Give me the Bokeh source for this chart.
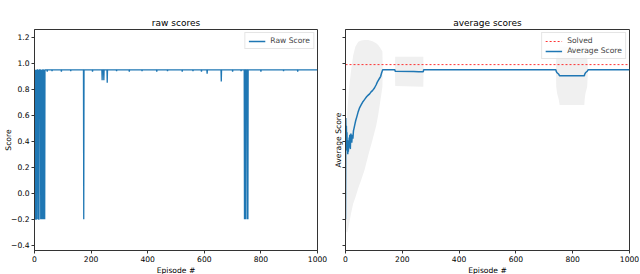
import numpy as np
from bokeh.plotting import figure
from bokeh.layouts import row
from bokeh.models import FixedTicker, Range1d, Legend, LegendItem
from bokeh.embed import file_html
from bokeh.resources import INLINE

# ---------------- data ----------------
x_limits = [0, 1000]
y_limits = [-0.44, 1.26]
x_ticks = [0, 200, 400, 600, 800, 1000]
y_ticks = [-0.4, -0.2, 0.0, 0.2, 0.4, 0.6, 0.8, 1.0, 1.2]
y_tick_labels = ["\u22120.4", "\u22120.2", "0.0", "0.2", "0.4", "0.6", "0.8", "1.0", "1.2"]

last_episode = 999
raw_base_score = 0.95
raw_dip_episodes = [0, 1, 3, 5, 6, 8, 13, 15, 16, 22, 24, 26, 29, 31, 34, 36,
                    45, 62, 95, 128, 174, 205, 239, 245, 257, 290, 335, 380,
                    432, 470, 522, 560, 590, 610, 660, 700, 730,
                    742, 745, 751, 754, 800, 880, 930]
raw_dip_scores = [-0.2, -0.2, -0.2, -0.2, -0.2, -0.2, -0.2, -0.2, -0.2, -0.2, -0.2, -0.2, -0.2, -0.2, -0.2, -0.2,
                  0.935, 0.94, 0.935, 0.94, -0.2, 0.935, 0.87, 0.87, 0.85, 0.94, 0.935, 0.94,
                  0.935, 0.94, 0.935, 0.94, 0.935, 0.92, 0.86, 0.935, 0.94,
                  -0.2, -0.2, -0.2, -0.2, 0.935, 0.94, 0.935]

avg_episodes = [0, 1, 2, 3, 4, 5, 6, 7, 8, 9, 10, 11, 12, 13, 14, 15, 16, 17, 18, 19, 20,
                22, 24, 26, 28, 30, 33, 36, 40, 45, 49, 55, 60, 65, 70, 75, 80, 85, 90, 95,
                102, 108, 112, 116, 120, 124, 127, 131, 174, 175, 240, 257, 274, 275,
                741, 742, 745, 751, 754, 841, 842, 845, 851, 854, 1000]
avg_scores = [-0.2, 0.58, 0.43, 0.52, 0.38, 0.47, 0.33, 0.41, 0.30, 0.37, 0.32, 0.40, 0.35, 0.43, 0.38,
              0.45, 0.40, 0.34, 0.41, 0.46, 0.42,
              0.39, 0.45, 0.42, 0.48, 0.50, 0.53, 0.56, 0.59, 0.63, 0.655, 0.68, 0.70, 0.715, 0.73,
              0.745, 0.755, 0.765, 0.78, 0.79,
              0.81, 0.835, 0.855, 0.87, 0.885, 0.90, 0.925, 0.95, 0.95, 0.938, 0.937, 0.935, 0.935, 0.95,
              0.95, 0.9385, 0.927, 0.9155, 0.904, 0.904, 0.9155, 0.927, 0.9385, 0.95, 0.95]

band_episodes = [0, 3, 7, 13, 20, 27, 35, 45, 55, 67, 80, 95, 108, 115, 122, 130, 131,
                 174, 175, 274, 275, 741, 742, 745, 751, 754, 841, 842, 845, 851, 854, 1000]
band_upper = [-0.2, 0.45, 0.65, 0.82, 0.95, 1.06, 1.13, 1.165, 1.175, 1.18, 1.18, 1.17, 1.155, 1.14,
              1.12, 1.09, 0.95,
              0.95, 1.05, 1.05, 0.95, 0.95, 1.05, 1.09, 1.11, 1.13, 1.13, 1.11, 1.09, 1.05, 0.95, 0.95]
band_lower = [-0.2, -0.30, -0.30, -0.23, -0.15, -0.08, -0.03, 0.04, 0.10, 0.18, 0.29, 0.41, 0.52, 0.60,
              0.70, 0.82, 0.95,
              0.95, 0.825, 0.82, 0.95, 0.95, 0.82, 0.77, 0.72, 0.68, 0.68, 0.72, 0.77, 0.82, 0.95, 0.95]

solved_score = 0.99

# ---------------- build raw polyline from the dip lists ----------------
pts = {}
for e, v in zip(raw_dip_episodes, raw_dip_scores):
    pts[e] = v
for e in list(raw_dip_episodes):
    for n in (e - 1, e + 1):
        if 0 <= n <= last_episode and n not in pts:
            pts[n] = raw_base_score
pts.setdefault(0, raw_base_score)
pts.setdefault(last_episode, raw_base_score)
raw_x = sorted(pts)
raw_y = [pts[k] for k in raw_x]

BLUE = "#1f77b4"
FONT = "DejaVu Sans"
AX = "#333333"
SMALL = "7.6px"


def style(p, ylabel, show_ylabels):
    p.title.text_font = FONT
    p.title.text_font_size = "9px"
    p.title.text_font_style = "normal"
    p.title.align = "center"
    p.title.standoff = 3
    p.title.text_color = "#000000"
    p.xgrid.visible = False
    p.ygrid.visible = False
    p.outline_line_color = AX
    p.outline_line_width = 1
    for ax in (p.xaxis[0], p.yaxis[0]):
        ax.axis_line_color = AX
        ax.major_tick_line_color = AX
        ax.minor_tick_line_color = None
        ax.major_tick_out = 3
        ax.major_tick_in = 0
        ax.major_label_text_font = FONT
        ax.major_label_text_font_size = SMALL
        ax.major_label_text_color = "#000000"
        ax.axis_label_text_font = FONT
        ax.axis_label_text_font_size = SMALL
        ax.axis_label_text_font_style = "normal"
        ax.axis_label_text_color = "#000000"
    p.xaxis[0].ticker = FixedTicker(ticks=x_ticks)
    p.yaxis[0].ticker = FixedTicker(ticks=y_ticks)
    p.xaxis[0].major_label_standoff = 2
    p.xaxis[0].axis_label_standoff = 1
    p.xaxis[0].axis_label = "Episode #"
    p.yaxis[0].axis_label = ylabel
    if show_ylabels:
        p.yaxis[0].major_label_overrides = {t: s for t, s in zip(y_ticks, y_tick_labels)}
        p.yaxis[0].major_label_standoff = 2
        p.yaxis[0].axis_label_standoff = -5
    else:
        p.yaxis[0].major_label_overrides = {t: "" for t in y_ticks}
        p.yaxis[0].major_label_standoff = 0
        p.yaxis[0].axis_label_standoff = 0


def style_legend(lg):
    lg.location = "top_right"
    lg.margin = 3
    lg.padding = 3
    lg.spacing = 1
    lg.label_height = 8
    lg.glyph_height = 8
    lg.glyph_width = 17
    lg.label_standoff = 5
    lg.label_text_font = FONT
    lg.label_text_font_size = SMALL
    lg.border_line_color = "#cccccc"
    lg.background_fill_alpha = 0.8


# ---------------- left: raw scores ----------------
p1 = figure(frame_width=283, frame_height=221, title="raw scores",
            x_range=Range1d(*x_limits), y_range=Range1d(*y_limits),
            output_backend="svg", toolbar_location=None,
            min_border_left=34, min_border_right=13, min_border_top=29, min_border_bottom=24)
style(p1, "Score", True)
r_raw = p1.line(raw_x, raw_y, line_color=BLUE, line_width=1.3)
lg1 = Legend(items=[LegendItem(label="Raw Score", renderers=[r_raw])])
p1.add_layout(lg1, "center")
style_legend(lg1)

# ---------------- right: average scores ----------------
p2 = figure(frame_width=284, frame_height=221, title="average scores",
            x_range=Range1d(*x_limits), y_range=Range1d(*y_limits),
            output_backend="svg", toolbar_location=None,
            min_border_left=14, min_border_right=10, min_border_top=29, min_border_bottom=24)
style(p2, "Average Score", False)
p2.varea(x=band_episodes, y1=band_lower, y2=band_upper, fill_color="#f0f0f0", fill_alpha=1.0)
r_solved = p2.line(x_limits, [solved_score, solved_score], line_color="red", line_alpha=0.8,
                   line_width=1, line_dash="2 2")
r_avg = p2.line(avg_episodes, avg_scores, line_color=BLUE, line_width=1.5)
lg2 = Legend(items=[LegendItem(label="Solved", renderers=[r_solved]),
                    LegendItem(label="Average Score", renderers=[r_avg])])
p2.add_layout(lg2, "center")
style_legend(lg2)

layout = row(p1, p2, styles={"position": "absolute", "left": "0px", "top": "0px"})

open("out.html", "w").write(file_html(layout, INLINE))
